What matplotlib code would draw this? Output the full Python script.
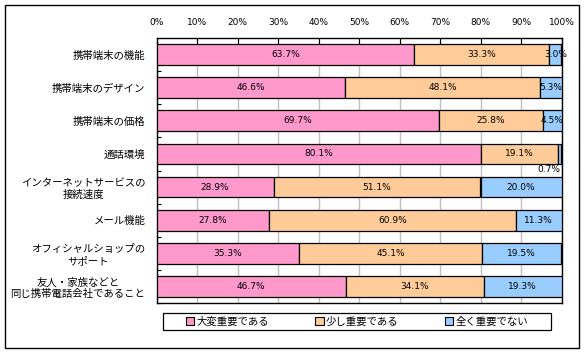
import matplotlib.pyplot as plt
import numpy as np
from matplotlib.patches import Rectangle

plt.rcParams["font.family"] = ["Noto Sans CJK JP", "DejaVu Sans"]

CATEGORIES = [
    "携帯端末の機能",
    "携帯端末のデザイン",
    "携帯端末の価格",
    "通話環境",
    "インターネットサービスの\n接続速度",
    "メール機能",
    "オフィシャルショップの\nサポート",
    "友人・家族などと\n同じ携帯電話会社であること",
]
SERIES_NAMES = ["大変重要である", "少し重要である", "全く重要でない"]
VERY = [63.7, 46.6, 69.7, 80.1, 28.9, 27.8, 35.3, 46.7]
SOMEWHAT = [33.3, 48.1, 25.8, 19.1, 51.1, 60.9, 45.1, 34.1]
NOT_AT_ALL = [3.0, 5.3, 4.5, 0.7, 20.0, 11.3, 19.5, 19.3]
COLORS = ["#FF99CC", "#FFCC99", "#99CCFF"]
XTICKS = np.arange(0, 101, 10)

fig = plt.figure(figsize=(5.86, 3.55), dpi=100)
ax = fig.add_axes([156.5 / 586, 1 - 303 / 355, 405 / 586, 265 / 355])

y = np.arange(len(CATEGORIES))
left = np.zeros(len(CATEGORIES))
handles = []
for name, vals, color in zip(SERIES_NAMES, [VERY, SOMEWHAT, NOT_AT_ALL], COLORS):
    vals = np.array(vals)
    bars = ax.barh(y, vals, left=left, height=0.63, color=color,
                   edgecolor="black", linewidth=0.9, label=name, zorder=3)
    handles.append(bars)
    for yi, l, v in zip(y, left, vals):
        if v < 2:
            ax.text(99.6, yi + 0.33, f"{v:.1f}%", ha="right", va="top",
                    fontsize=6.5, family="DejaVu Sans", zorder=4)
        else:
            ax.text(l + v / 2, yi, f"{v:.1f}%", ha="center", va="center",
                    fontsize=6.5, family="DejaVu Sans", zorder=4)
    left = left + vals

ax.set_xlim(0, 100)
ax.set_ylim(len(CATEGORIES) - 0.5, -0.5)
ax.set_xticks(XTICKS)
ax.set_xticklabels([f"{t}%" for t in XTICKS], fontsize=6.5, family="DejaVu Sans")
ax.xaxis.tick_top()
ax.tick_params(axis="x", direction="in", length=4, width=0.8, pad=8)
ax.set_yticks(y + 0.5, minor=True)
ax.set_yticks(y)
ax.set_yticklabels(CATEGORIES, fontsize=7.5, multialignment="center")
ax.tick_params(axis="y", which="major", length=0, pad=8)
ax.tick_params(axis="y", which="minor", direction="in", length=3, width=0.8)
ax.grid(axis="x", color="#C0C0C0", linewidth=1.0, zorder=0)
ax.set_axisbelow(True)
for sp in ax.spines.values():
    sp.set_linewidth(1.0)

leg = fig.legend(handles=handles, labels=SERIES_NAMES, ncol=3,
                 bbox_to_anchor=(163 / 586, 1 - 330 / 355, 388 / 586, 17 / 355),
                 loc="center", fontsize=7.5, frameon=False,
                 handlelength=0.8, handleheight=0.8, columnspacing=4.45,
                 handletextpad=0.2, borderaxespad=0, borderpad=0.2)
for h in leg.legend_handles:
    h.set_linewidth(0.8)

# legend frame spans the full box width in the reference
fig.patches.append(Rectangle((163 / 586, 1 - 330 / 355), 388 / 586, 17 / 355,
                             transform=fig.transFigure, fill=False,
                             edgecolor="black", linewidth=0.9))
fig.patches.append(Rectangle((4.5 / 586, 1 - 348 / 355), 574.5 / 586, 343.5 / 355,
                             transform=fig.transFigure, fill=False,
                             edgecolor="black", linewidth=1.0))

fig.savefig("out.png", dpi=100)
